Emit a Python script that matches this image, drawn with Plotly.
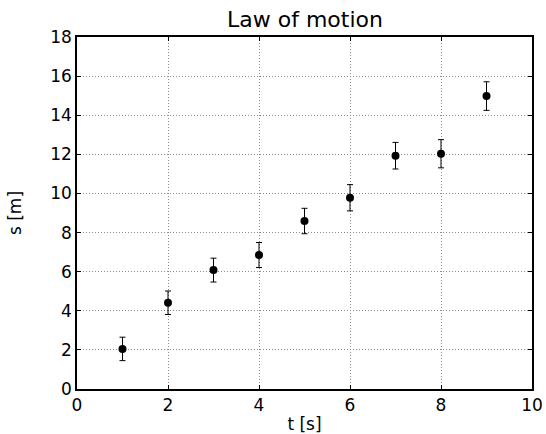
import plotly.graph_objects as go

t_values = [1, 2, 3, 4, 5, 6, 7, 8, 9]
s_values = [2.05, 4.41, 6.08, 6.85, 8.59, 9.78, 11.93, 12.03, 14.98]
s_errors = [0.60, 0.60, 0.61, 0.64, 0.65, 0.67, 0.68, 0.72, 0.73]
x_ticks = [0, 2, 4, 6, 8, 10]
y_ticks = [0, 2, 4, 6, 8, 10, 12, 14, 16, 18]

fig = go.Figure()
fig.add_trace(go.Scatter(
    x=t_values, y=s_values, mode="markers",
    marker=dict(color="black", size=8),
    error_y=dict(type="data", array=s_errors, visible=True,
                 color="black", thickness=1, width=3),
    showlegend=False,
))

axis_common = dict(
    showline=True, linecolor="black", linewidth=1.5, mirror="allticks",
    ticks="inside", ticklen=4, tickcolor="black", tickwidth=1,
    showgrid=True, gridcolor="#8a8a8a", gridwidth=1, griddash="1px,2px",
    zeroline=False, automargin=False,
    tickfont=dict(family="DejaVu Sans", size=17, color="black"),
)

fig.update_layout(
    width=546, height=434,
    margin=dict(l=77, r=14, t=37, b=45),
    paper_bgcolor="white", plot_bgcolor="white",
    title=dict(text="Law of motion", x=305 / 546, xanchor="center",
               y=1 - 27 / 434, yanchor="bottom",
               font=dict(family="DejaVu Sans", size=22, color="black")),
    xaxis=dict(range=[0, 10], tickvals=x_ticks,
               title=dict(text="t [s]", standoff=6,
                          font=dict(family="DejaVu Sans", size=17, color="black")),
               **axis_common),
    yaxis=dict(range=[0, 18], tickvals=y_ticks,
               title=dict(text="s [m]", standoff=24,
                          font=dict(family="DejaVu Sans", size=17, color="black")),
               **axis_common),
)

fig.write_html("out.html")
